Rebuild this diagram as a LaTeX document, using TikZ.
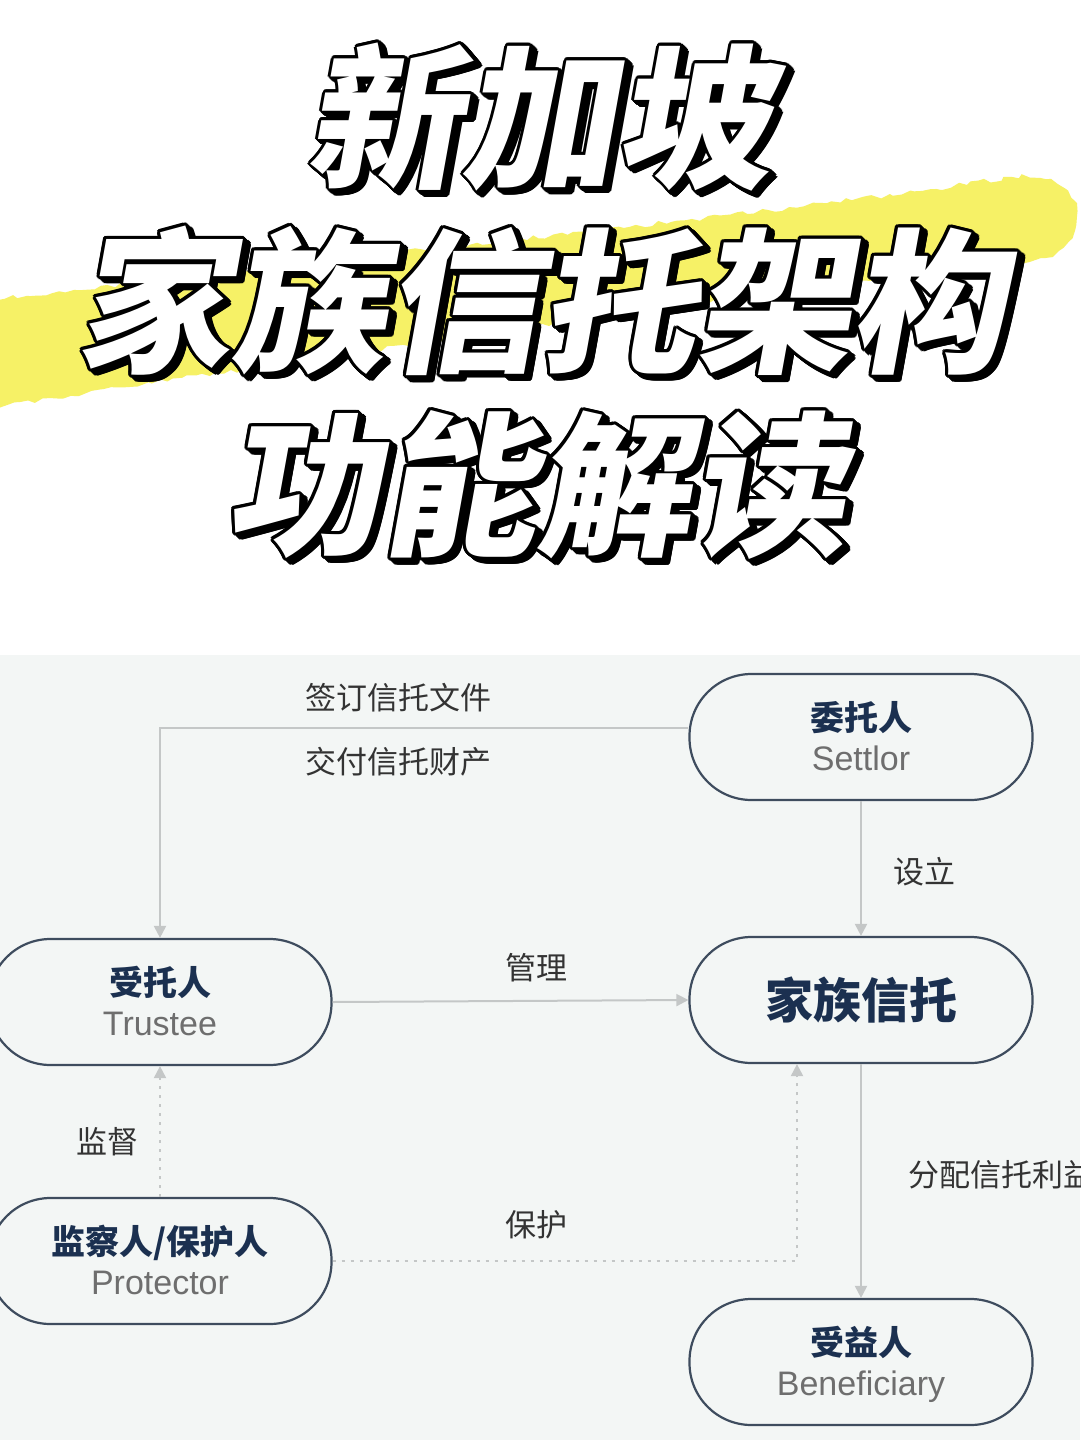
\documentclass[tikz,border=0pt]{standalone}
\usepackage{fontspec}
\setmainfont{Liberation Sans}
\newfontfamily\cjk{Noto Sans CJK SC}
\IfFontExistsTF{Noto Sans CJK SC Black}
  {\newfontfamily\titlefont{Noto Sans CJK SC Black}[FakeSlant=0.18]\let\titleweight\relax}
  {\newfontfamily\titlefont{Noto Sans CJK SC}[FakeSlant=0.18]\let\titleweight\bfseries}
\usetikzlibrary{arrows.meta,calc,decorations.pathmorphing}
\definecolor{boxline}{HTML}{3E4C5E}
\definecolor{nameblue}{HTML}{1B3050}
\definecolor{engray}{HTML}{6E6E6E}
\definecolor{linegray}{HTML}{C4C7C7}
\definecolor{labelgray}{HTML}{333333}
\definecolor{diagbg}{HTML}{F3F6F5}
\definecolor{hilite}{HTML}{F6F166}
\tikzset{
  entity/.style={draw=boxline, line width=2.2pt, fill=diagbg, rounded corners=62pt,
    minimum width=343pt, minimum height=126pt, inner sep=0pt},
  conn/.style={draw=linegray, line width=2pt, -{Triangle[width=12pt,length=12pt]}},
  dotconn/.style={conn, dash pattern=on 3pt off 6pt},
  cname/.style={font=\cjk\bfseries\fontsize{34}{40}\selectfont, text=nameblue, anchor=base, inner sep=0pt},
  bigname/.style={font=\cjk\bfseries\fontsize{48}{56}\selectfont, text=nameblue, anchor=base, inner sep=0pt},
  ename/.style={font=\fontsize{34}{40}\selectfont, text=engray, anchor=base, inner sep=0pt},
  elabel/.style={font=\cjk\fontsize{31}{36}\selectfont, text=labelgray, anchor=base west, inner sep=0pt},
  titletext/.style={font=\titlefont\titleweight\fontsize{155}{160}\selectfont, inner sep=0pt, anchor=base},
}
\newcommand\TitleLine[4]{%
  \foreach \k in {0,1,2,3,4,5}{%
    \foreach \a in {0,30,...,330}{%
      \node[titletext, text=black] (#4-s\k-\a) at ($(#1,#2)+({\k*1.2+2.6*cos(\a)},{\k*1.0+2.6*sin(\a)})$) {#3};
    }%
  }%
  \node[titletext, text=white] (#4) at (#1,#2) {#3};
}
\begin{document}
\begin{tikzpicture}[x=1pt,y=-1pt]
\useasboundingbox (0,0) rectangle (1080,1440);
\clip (0,0) rectangle (1080,1440);
\fill[white] (0,0) rectangle (1080,655);
\fill[diagbg] (0,655) rectangle (1080,1440);

% highlighter stroke
\fill[hilite, decorate, decoration={random steps, segment length=7pt, amplitude=2.5pt}]
  (-10,300) .. controls (400,250) and (800,212) .. (1010,177)
  .. controls (1060,170) and (1085,200) .. (1075,230)
  .. controls (1070,250) and (1055,258) .. (1035,260)
  .. controls (700,300) and (300,360) .. (-10,408) -- cycle;

% title
\TitleLine{538}{176}{新加坡}{t1}
\TitleLine{540}{360}{家族信托架构}{t2}
\TitleLine{535}{543}{功能解读}{t3}

% entities
\node[entity] (settlor) at (861,737) {};
\node[entity] (trust) at (861,1000) {};
\node[entity] (trustee) at (160,1002) {};
\node[entity] (protector) at (160,1261) {};
\node[entity] (benef) at (861,1362) {};

\node[cname] (settlor-c) at ($(settlor.center)+(0,-7)$) {委托人};
\node[ename] (settlor-e) at ($(settlor.center)+(0,33)$) {Settlor};
\node[bigname] (trust-c) at ($(trust.center)+(0,18)$) {家族信托};
\node[cname] (trustee-c) at ($(trustee.center)+(0,-7)$) {受托人};
\node[ename] (trustee-e) at ($(trustee.center)+(0,33)$) {Trustee};
\node[cname] (protector-c) at ($(protector.center)+(0,-7)$) {监察人/保护人};
\node[ename] (protector-e) at ($(protector.center)+(0,33)$) {Protector};
\node[cname] (benef-c) at ($(benef.center)+(0,-7)$) {受益人};
\node[ename] (benef-e) at ($(benef.center)+(0,33)$) {Beneficiary};

% connectors
\draw[conn] ([yshift=9pt]settlor.west) -| (trustee.north);
\draw[conn] (settlor.south) -- (trust.north);
\draw[conn] (trustee.east) -- (trust.west);
\draw[dotconn] (protector.north) -- (trustee.south);
\draw[dotconn] (protector.east) -| ([xshift=-64pt]trust.south);
\draw[conn] (trust.south) -- (benef.north);

% connector labels
\node[elabel] (l-sign) at (305,709) {签订信托文件};
\node[elabel] (l-give) at (305,773) {交付信托财产};
\node[elabel] (l-set) at (893,883) {设立};
\node[elabel] (l-manage) at (505,979) {管理};
\node[elabel] (l-watch) at (76,1153) {监督};
\node[elabel] (l-protect) at (505,1236) {保护};
\node[elabel] (l-dist) at (908,1186) {分配信托利益};
\end{tikzpicture}
\end{document}
